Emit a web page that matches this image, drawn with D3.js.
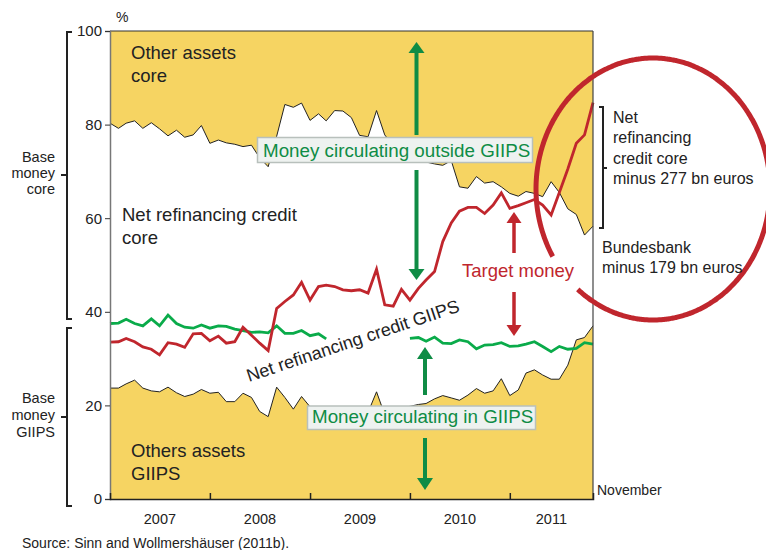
<!DOCTYPE html>
<html><head><meta charset="utf-8">
<script src="https://cdn.jsdelivr.net/npm/d3@7"></script>
<style>body{margin:0;background:#fff}svg{display:block;font-family:"Liberation Sans",Arial,sans-serif}</style>
</head><body><svg id="c" width="766" height="550"></svg>
<script>
// ---- data (% of base money), monthly Jan 2007 – Nov 2011 ----
const months = d3.timeMonths(new Date(2007,0,1), new Date(2011,11,1));
const otherAssetsCoreFloor = [80.3,79.2,80.3,80.8,79.2,80.4,79.1,77.6,78.8,77.3,
  77.8,79.8,76.0,76.7,76.1,75.8,75.3,75.6,72.9,71.0,
  77.5,84.3,83.7,84.6,80.9,82.3,80.8,83.0,82.9,81.5,
  77.7,77.4,83.0,77.8,75.5,74.5,73.5,72.8,72.0,71.6,
  71.3,72.3,66.7,66.4,68.9,67.5,67.8,66.7,65.3,64.7,
  65.7,65.3,64.6,67.8,65.5,62.0,60.8,56.4,58.3];
const targetLine = [33.5,33.6,34.3,33.6,32.5,32.0,30.8,33.4,33.1,32.4,
  35.3,35.4,33.8,34.8,33.3,33.6,36.7,35.0,33.3,31.7,
  40.7,42.2,43.6,46.3,42.5,45.4,45.7,45.4,44.7,44.5,
  44.7,44.0,49.1,41.5,41.2,44.8,42.5,45.0,46.8,48.6,
  55.0,59.0,61.5,62.3,62.3,61.0,62.8,65.4,62.1,62.7,
  63.3,64.0,62.8,60.7,65.5,70.5,76.0,77.8,84.7];
const baseMoneyGiips = [37.5,37.6,38.4,37.5,37.0,38.5,37.0,39.3,37.5,36.7,
  36.5,37.2,36.5,37.0,36.9,36.3,36.0,35.6,35.7,35.5,
  37.0,35.4,35.4,36.0,34.9,35.3,34.2,null,null,null,
  null,null,null,null,null,null,34.3,34.5,33.7,34.6,
  33.3,33.2,34.0,33.6,32.1,32.9,33.0,33.4,32.6,32.7,
  33.1,33.6,32.6,31.5,32.6,32.0,32.2,33.4,33.1];
const otherAssetsGiips = [23.7,23.7,24.6,25.4,23.7,23.1,22.9,23.9,22.7,21.9,
  22.4,23.4,22.6,22.8,20.8,20.8,22.6,21.7,18.7,17.6,
  23.9,21.7,19.2,21.9,19.7,19.0,18.5,19.5,18.8,18.3,
  19.0,18.5,22.9,18.0,19.0,19.5,19.8,20.2,20.4,21.4,
  22.1,21.6,21.1,22.2,23.6,22.6,23.1,25.7,22.1,23.3,
  26.9,27.6,26.5,25.6,25.6,28.6,34.0,34.5,37.0];
const yTicks = [0,20,40,60,80,100];
const yearLabels = ["2007","2008","2009","2010","2011"];

// ---- styles ----
const YELLOW="#f6d462", RED="#c0262d", GREEN_LINE="#0aab4a", GREEN_TXT="#0f8c45", INK="#222";

const svg = d3.select("#c");
const x = d3.scaleTime().domain([new Date(2007,0,1), new Date(2011,10,1)]).range([110,593]);
const y = d3.scaleLinear().domain([0,100]).range([499,31]);
const rows = months.map((d,i)=>({date:d, up:otherAssetsCoreFloor[i], red:targetLine[i], gr:baseMoneyGiips[i], lo:otherAssetsGiips[i]}));

// areas
svg.append("path").datum(rows).attr("fill",YELLOW)
  .attr("d", d3.area().x(d=>x(d.date)).y0(y(100)).y1(d=>y(d.up)));
svg.append("path").datum(rows).attr("fill",YELLOW)
  .attr("d", d3.area().x(d=>x(d.date)).y0(y(0)).y1(d=>y(d.lo)));
// boundary lines
svg.append("path").datum(rows).attr("fill","none").attr("stroke","#222").attr("stroke-width",1)
  .attr("d", d3.line().x(d=>x(d.date)).y(d=>y(d.up)));
svg.append("path").datum(rows).attr("fill","none").attr("stroke","#222").attr("stroke-width",1)
  .attr("d", d3.line().x(d=>x(d.date)).y(d=>y(d.lo)));
svg.append("path").datum(rows).attr("fill","none").attr("stroke",GREEN_LINE).attr("stroke-width",2.8)
  .attr("d", d3.line().defined(d=>d.gr!=null).x(d=>x(d.date)).y(d=>y(d.gr)));
svg.append("path").datum(rows).attr("fill","none").attr("stroke",RED).attr("stroke-width",2.8)
  .attr("d", d3.line().x(d=>x(d.date)).y(d=>y(d.red)));

// frame
svg.append("line").attr("x1",110).attr("x2",593).attr("y1",y(100)).attr("y2",y(100)).attr("stroke","#333").attr("stroke-width",1.2);
svg.append("line").attr("x1",593).attr("x2",593).attr("y1",y(100)).attr("y2",y(0)).attr("stroke","#444").attr("stroke-width",1.2);

// y axis
const ya = svg.append("g").attr("transform","translate(110,0)")
  .call(d3.axisLeft(y).tickValues(yTicks).tickSize(5).tickPadding(3));
ya.select(".domain").attr("stroke","#777").attr("stroke-width",1.5);
ya.selectAll(".tick line").attr("stroke","#333");
ya.selectAll("text").attr("font-size",15).attr("fill",INK).attr("font-family","Liberation Sans, Arial");
svg.append("text").attr("x",116).attr("y",22).attr("font-size",14).attr("fill",INK).text("%");

// x axis
const xa = svg.append("g").attr("transform",`translate(0,${y(0)})`)
  .call(d3.axisBottom(x).tickValues([2008,2009,2010,2011].map(v=>new Date(v,0,1))).tickSize(-6).tickFormat(""));
xa.select(".domain").attr("stroke","#222").attr("stroke-width",1.5);
xa.selectAll(".tick line").attr("stroke","#222").attr("stroke-width",1.5);
yearLabels.forEach((t,i)=>{
  const a = Math.max(x(new Date(+t,0,1)), 110), b = Math.min(x(new Date(+t+1,0,1)), 593);
  svg.append("text").attr("x",(a+b)/2).attr("y",524).attr("text-anchor","middle").attr("font-size",14.5).attr("fill",INK).text(t);
});
svg.append("text").attr("x",597).attr("y",495).attr("font-size",14).attr("fill",INK).text("November");
svg.append("text").attr("x",22).attr("y",548).attr("font-size",14).attr("fill",INK).text("Source: Sinn and Wollmershäuser (2011b).");

// left brackets
function bracketL(x0,y0,y1,ym){
  svg.append("path").attr("fill","none").attr("stroke","#222").attr("stroke-width",2)
    .attr("d",`M${x0+5},${y0}H${x0}V${y1}H${x0+5}M${x0},${ym}H${x0-6}`);
}
bracketL(67,32,319,175);
bracketL(67,328,506,417);
function multi(xp,yp,lines,lh,opts){
  const t = svg.append("text").attr("x",xp).attr("y",yp).attr("font-size",opts.size).attr("fill",opts.fill||INK)
    .attr("text-anchor",opts.anchor||"start");
  lines.forEach((l,i)=>t.append("tspan").attr("x",xp).attr("dy",i?lh:0).text(l));
}
multi(55,162,["Base","money","core"],16,{size:14.5,anchor:"end"});
multi(55,403,["Base","money","GIIPS"],17,{size:14.5,anchor:"end"});

// in-plot labels
multi(131,59,["Other assets","core"],23,{size:18.5});
multi(122,221,["Net refinancing credit","core"],23,{size:18.5});
multi(131,457,["Others assets","GIIPS"],23,{size:18.5});
svg.append("text").attr("transform","translate(249,382) rotate(-18.5)").attr("font-size",18).attr("fill",INK)
  .text("Net refinancing credit GIIPS");

// arrows
function arrow(xp,ya_,yb,color,w,hw,hl){ // from ya_ to tip yb
  const dir = yb>ya_?1:-1;
  svg.append("line").attr("x1",xp).attr("x2",xp).attr("y1",ya_).attr("y2",yb-dir*hl).attr("stroke",color).attr("stroke-width",w);
  svg.append("path").attr("fill",color).attr("d",`M${xp-hw/2},${yb-dir*hl}L${xp+hw/2},${yb-dir*hl}L${xp},${yb}Z`);
}
arrow(416.5,135,42,GREEN_TXT,4,16,11);
arrow(416.5,170,280,GREEN_TXT,4,16,11);
arrow(425,395,347,GREEN_TXT,4,16,12);
arrow(425,438,490,GREEN_TXT,4,16,12);
arrow(514,253,212,RED,3.5,15,11);
arrow(514,292,336,RED,3.5,15,11);

// boxes
function box(x0,y0,w,h,label,tx,ty){
  svg.append("rect").attr("x",x0).attr("y",y0).attr("width",w).attr("height",h).attr("fill","#eef2f0").attr("stroke","#b8c0bc").attr("stroke-width",1.5);
  svg.append("text").attr("x",tx).attr("y",ty).attr("font-size",18.8).attr("fill",GREEN_TXT).text(label);
}
box(257.5,137.5,275,25,"Money circulating outside GIIPS",263,157);
box(307.5,406,228,23.5,"Money circulating in GIIPS",312,423);

svg.append("text").attr("x",462).attr("y",277).attr("font-size",18.5).attr("fill",RED).text("Target money");

// red ellipse with a gap
const cx=653, cy=189, rx=117, ry=131;
const angles = d3.range(149, 490.5, 1).map(a=>a*Math.PI/180);
svg.append("path").attr("fill","none").attr("stroke",RED).attr("stroke-width",5)
  .attr("d", d3.line().x(t=>cx+rx*Math.cos(t)).y(t=>cy+ry*Math.sin(t)).curve(d3.curveBasis)(angles));

// right bracket & texts
svg.append("path").attr("fill","none").attr("stroke","#222").attr("stroke-width",2)
  .attr("d","M599,107H603V228H599M603,168H607");
multi(613,123,["Net","refinancing","credit core","minus 277 bn euros"],20.3,{size:16});
multi(602,253,["Bundesbank","minus 179 bn euros"],20,{size:16});
</script></body></html>
